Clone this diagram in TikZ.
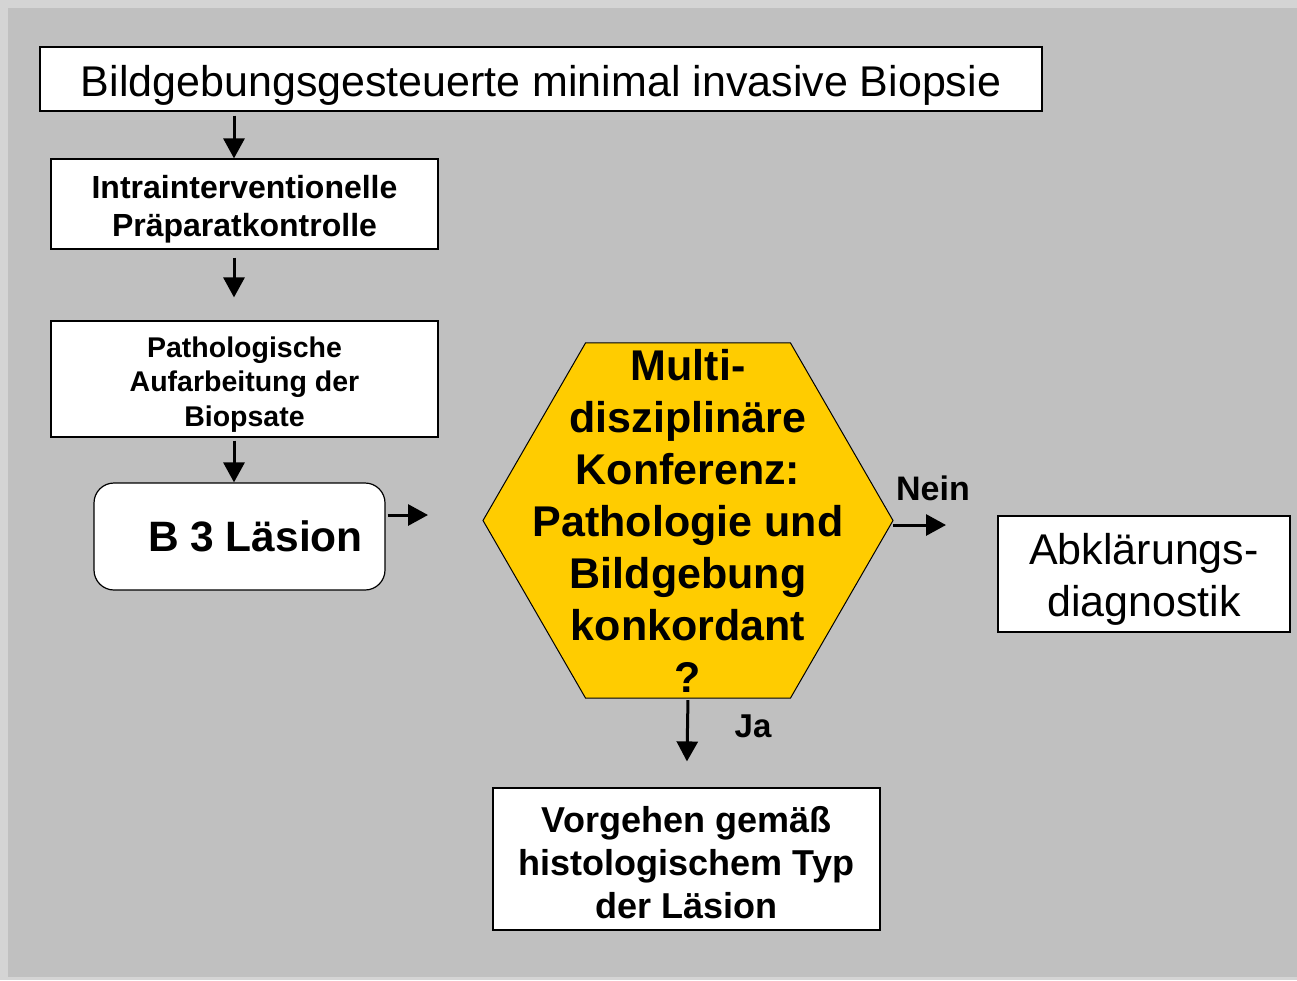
\documentclass[tikz,border=0pt]{standalone}
\usepackage{fontspec}
\setmainfont{Liberation Sans}
\usetikzlibrary{arrows.meta,shapes.geometric}
\definecolor{bgaussen}{RGB}{212,212,212}
\definecolor{bginnen}{RGB}{192,192,192}
\definecolor{konfgelb}{RGB}{255,204,0}
\newcommand{\tiefer}[1]{\rule{0pt}{#1}}
\begin{document}
\begin{tikzpicture}[x=1pt,y=-1pt,
  box/.style={draw, fill=white, line width=1.2pt, inner sep=0pt, align=center},
  arr/.style={line width=3pt, -{Triangle[length=20pt,width=21pt]}}]
\fill[bgaussen] (0,0) rectangle (1297,980);
\fill[bginnen] (8,8) rectangle (1297,977);
% Kaestchen
\node[box, minimum width=1002, minimum height=64, font=\fontsize{43}{52}\selectfont] (titel) at (541,79) {\tiefer{44pt}Bildgebungsgesteuerte minimal invasive Biopsie};
\node[box, minimum width=387, minimum height=90, font=\fontsize{32}{38}\bfseries] (intra) at (244.5,204) {\tiefer{34pt}Intrainterventionelle\\Präparatkontrolle};
\node[box, minimum width=387, minimum height=116, font=\fontsize{28.5}{34.5}\bfseries] (patho) at (244.5,379) {\tiefer{31pt}Pathologische\\Aufarbeitung der\\Biopsate};
\node[box, rounded corners=20pt, minimum width=291, minimum height=107, font=\fontsize{42.5}{50}\bfseries] (b3) at (239.5,536.5) {\hspace*{32pt}B 3 Läsion};
\node[draw, fill=konfgelb, line width=1pt, regular polygon, regular polygon sides=6, minimum size=410, inner sep=0pt, outer sep=0pt] (konf) at (688,520.5) {};
\node[align=center, font=\fontsize{43}{52}\bfseries] (konftext) at (konf.center) {Multi-\\disziplinäre\\Konferenz:\\Pathologie und\\Bildgebung\\konkordant\\?};
\node[box, minimum width=292, minimum height=116, font=\fontsize{43}{52}\selectfont] (abkl) at (1144,574) {\tiefer{42pt}Abklärungs-\\diagnostik};
\node[box, minimum width=387, minimum height=142, font=\fontsize{36}{43}\bfseries] (vorgehen) at (686.5,859) {\tiefer{33pt}Vorgehen gemäß\\histologischem Typ\\der Läsion};
\node[font=\fontsize{34}{40}\bfseries] (nein) at (933,488) {Nein};
\node[font=\fontsize{33}{40}\bfseries] (ja) at (753,726) {Ja};
% Pfeile
\coordinate (b3ende) at (428,515);
\coordinate (neinende) at (946,525);
\draw[arr, shorten <=4pt] ([xshift=-10.5]intra.north |- titel.south) -- ([xshift=-10.5]intra.north);
\draw[arr, shorten <=8pt, shorten >=23pt] ([xshift=-10.5]intra.south) -- ([xshift=-10.5]patho.north);
\draw[arr, shorten <=3pt] ([xshift=-10.5]patho.south) -- ([xshift=-10.5]patho.south |- b3.north);
\draw[arr, shorten <=2pt] (b3.east |- b3ende) -- (b3ende);
\draw[arr] (konf.east |- neinende) -- (neinende);
\draw[arr, shorten <=2pt, shorten >=26pt] (konf.south) -- (vorgehen.north);
\end{tikzpicture}
\end{document}
